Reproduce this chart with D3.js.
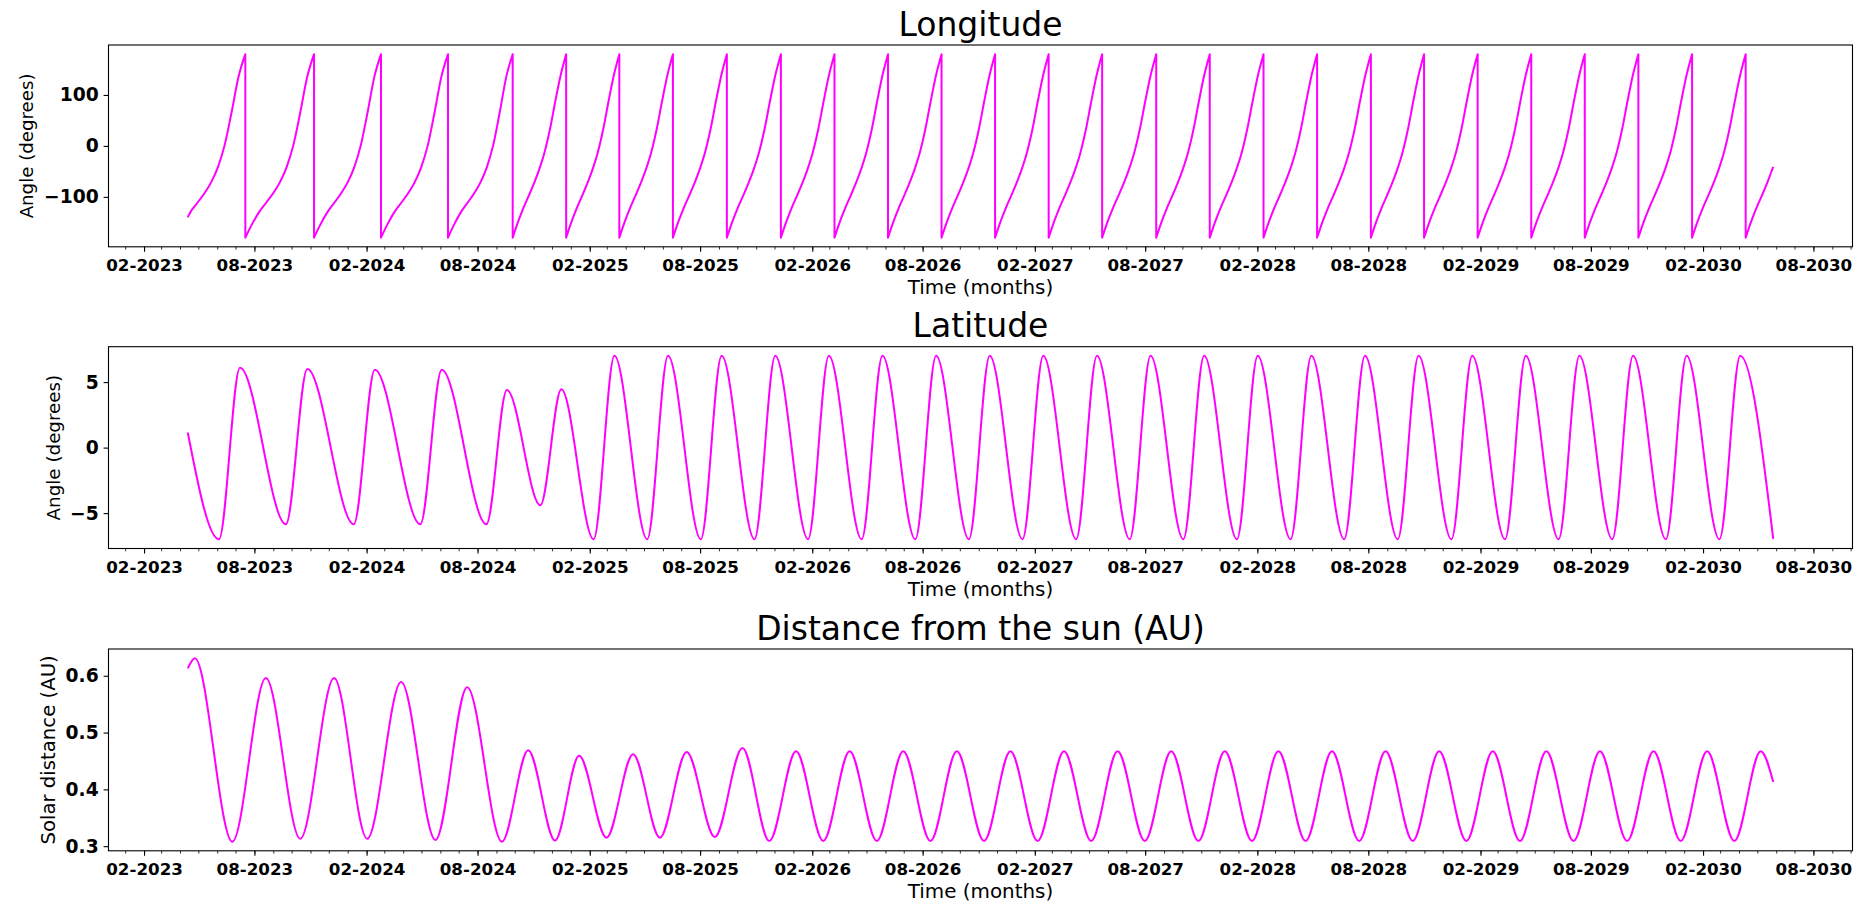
<!DOCTYPE html>
<html>
<head>
<meta charset="utf-8">
<script src="https://cdn.jsdelivr.net/npm/d3@7"></script>
<style>
  html, body { margin: 0; padding: 0; background: #fff; }
  svg { display: block; }
  text { font-family: "DejaVu Sans", sans-serif; fill: #000; }
</style>
</head>
<body>
<svg id="chart" width="1868" height="906"></svg>
<script>
// ===================== DATA =====================
// Time is given in days since the first sample.
const startDate = "2023-04-13T17:00:00Z";

// Axis tick values / labels
const xMajorMonths = [1, 7];            // February and August
const xTickFormat = "%m-%Y";
const lonTicks = [-100, 0, 100];
const latTicks = [-5, 0, 5];
const distTicks = [0.3, 0.4, 0.5, 0.6];

// Longitude (degrees): first and last samples, days where it wraps from +180 to -180,
// and the longitude read along one orbit (from one wrap to the next, 11 equally spaced readings)
const lonStart = [0, -140];
const lonEnd = [2600.4, -41];
const lonWrapDays = [94.4, 207.1, 316.9, 426.8, 532.9, 620.6, 707.8, 795.7, 884.2, 972.8,
  1060.7, 1148.5, 1236.3, 1324.1, 1412.0, 1499.7, 1588.4, 1676.2, 1764.4, 1852.3,
  1940.5, 2027.7, 2115.6, 2203.5, 2291.3, 2379.2, 2467.3, 2555.2];
const lonOrbitEarly = [-180, -153, -130, -112, -94, -72, -42, 2, 66, 135, 180];
const lonOrbitLate  = [-180, -149, -122, -98, -73, -45, -11, 34, 89, 140, 180];
const lonEarlyOrbitCount = 5;

// Latitude (degrees): start, turning points, end  [day, value]
const latPoints = [
  [0, 1.15], [51.2, -7.0], [85.6, 6.1], [161.0, -5.85], [196.1, 6.0], [272.3, -5.85],
  [306.8, 5.95], [381.4, -5.85], [416.5, 5.95], [489.8, -5.85], [523.4, 4.4], [578.3, -4.4],
  [612.7, 4.45], [665.7, -7.0], [699.8, 7.0], [753.6, -7.0], [787.7, 7.0], [841.5, -7.0],
  [875.6, 7.0], [929.5, -7.0], [963.6, 7.0], [1017.4, -7.0], [1051.5, 7.0], [1105.3, -7.0],
  [1139.4, 7.0], [1193.3, -7.0], [1227.4, 7.0], [1281.2, -7.0], [1315.3, 7.0], [1369.1, -7.0],
  [1403.2, 7.0], [1457.1, -7.0], [1491.2, 7.0], [1545.0, -7.0], [1579.1, 7.0], [1632.9, -7.0],
  [1667.0, 7.0], [1720.8, -7.0], [1754.9, 7.0], [1808.8, -7.0], [1842.9, 7.0], [1896.7, -7.0],
  [1930.8, 7.0], [1984.6, -7.0], [2018.7, 7.0], [2072.6, -7.0], [2106.7, 7.0], [2160.5, -7.0],
  [2194.6, 7.0], [2248.4, -7.0], [2282.5, 7.0], [2336.4, -7.0], [2370.5, 7.0], [2424.3, -7.0],
  [2458.4, 7.0], [2512.2, -7.0], [2546.3, 7.0], [2600.4, -6.97]
];

// Solar distance (AU): start, turning points, end  [day, value]
const distPoints = [
  [0, 0.613], [11.6, 0.631], [73.1, 0.308], [128.1, 0.596], [184.5, 0.313], [240.0, 0.596],
  [294.3, 0.313], [349.9, 0.589], [406.3, 0.311], [458.3, 0.580], [515.3, 0.308], [558.4, 0.469],
  [602.4, 0.310], [641.9, 0.459], [686.7, 0.315], [730.4, 0.462], [774.4, 0.315], [818.3, 0.466],
  [864.4, 0.316], [909.8, 0.473], [953.8, 0.309], [997.7, 0.467], [1042.3, 0.309], [1085.6, 0.467],
  [1130.2, 0.309], [1173.5, 0.467], [1218.1, 0.309], [1261.4, 0.467], [1306.0, 0.309], [1349.3, 0.467],
  [1393.9, 0.309], [1437.2, 0.467], [1481.8, 0.309], [1525.1, 0.467], [1569.7, 0.309], [1613.0, 0.467],
  [1657.6, 0.309], [1700.9, 0.467], [1745.5, 0.309], [1788.8, 0.467], [1833.4, 0.309], [1876.7, 0.467],
  [1921.3, 0.309], [1964.6, 0.467], [2009.2, 0.309], [2052.5, 0.467], [2097.1, 0.309], [2140.4, 0.467],
  [2185.0, 0.309], [2228.3, 0.467], [2272.9, 0.309], [2316.2, 0.467], [2360.8, 0.309], [2404.1, 0.467],
  [2448.7, 0.309], [2492.0, 0.467], [2536.6, 0.309], [2579.9, 0.467], [2600.4, 0.413]
];

// Panel texts
const titles = ["Longitude", "Latitude", "Distance from the sun (AU)"];
const yLabels = ["Angle (degrees)", "Angle (degrees)", "Solar distance (AU)"];
const xLabel = "Time (months)";

// ===================== BUILD =====================
const DAY = 86400000;
const t0 = new Date(startDate).getTime();
const toDate = d => new Date(t0 + d * DAY);

// longitude orbit segments (one per wrap interval)
function lonSegments() {
  const segs = [];
  const n = lonWrapDays.length;
  for (let k = 0; k <= n; k++) {
    const prof = k < lonEarlyOrbitCount ? lonOrbitEarly : lonOrbitLate;
    let s, e;
    if (k === 0) { e = lonWrapDays[0]; s = e - (lonWrapDays[1] - lonWrapDays[0]); }
    else if (k === n) { s = lonWrapDays[n - 1]; e = s + (lonWrapDays[n - 1] - lonWrapDays[n - 2]); }
    else { s = lonWrapDays[k - 1]; e = lonWrapDays[k]; }
    const pts = [];
    if (k === 0) pts.push(lonStart);
    prof.forEach((v, i) => {
      const d = s + (e - s) * i / (prof.length - 1);
      if (d > lonStart[0] + 0.5 && d < lonEnd[0] - 0.5) pts.push([d, v]);
    });
    if (k === n) pts.push(lonEnd);
    segs.push(pts);
  }
  return segs;
}

const W = 1868, H = 906;
const left = 108.5, right = 1852.5;
const tops = [45, 346.7, 649];
const plotH = 201.8;

const svg = d3.select("#chart");
svg.append("rect").attr("width", W).attr("height", H).attr("fill", "#fff");

const dayMin = 0, dayMax = lonEnd[0];
const pad = (dayMax - dayMin) * 0.05;
const x = d3.scaleUtc().domain([toDate(dayMin - pad), toDate(dayMax + pad)]).range([left, right]);

function padded(vals) {
  const [a, b] = d3.extent(vals);
  const m = (b - a) * 0.05;
  return [a - m, b + m];
}

const lonVals = [lonStart[1], lonEnd[1], ...lonOrbitEarly, ...lonOrbitLate];
const panels = [
  { domain: padded(lonVals), ticks: lonTicks, fmt: d3.format("d"), ylabX: 32.5, ylabSize: 18.2 },
  { domain: padded(latPoints.map(d => d[1])), ticks: latTicks, fmt: d3.format("d"), ylabX: 59.5, ylabSize: 18.3 },
  { domain: padded(distPoints.map(d => d[1])), ticks: distTicks, fmt: d3.format(".1f"), ylabX: 55, ylabSize: 19.7 }
];

const majorTicks = d3.utcMonths(x.domain()[0], x.domain()[1]).filter(m => xMajorMonths.includes(m.getUTCMonth()));
const minorTicks = d3.utcMonths(x.domain()[0], x.domain()[1]);

panels.forEach((p, i) => {
  const top = tops[i], bottom = top + plotH;
  const y = d3.scaleLinear().domain(p.domain).range([bottom, top]);
  const g = svg.append("g");

  // line(s)
  const lineGen = d3.line().x(d => x(toDate(d[0]))).y(d => y(d[1])).curve(d3.curveMonotoneX);
  let pathD;
  if (i === 0) {
    pathD = lonSegments().map((s, j) => { const ps = lineGen(s); return j === 0 ? ps : "L" + ps.slice(1); }).join("");
  } else {
    pathD = lineGen(i === 1 ? latPoints : distPoints);
  }
  g.append("path").attr("d", pathD).attr("fill", "none").attr("stroke", "#ff00ff")
    .attr("stroke-width", 2).attr("stroke-linejoin", "round");

  // x axis minor ticks
  const xMinor = d3.axisBottom(x).tickValues(minorTicks).tickSize(2.8).tickFormat("").tickSizeOuter(0);
  const gm = g.append("g").attr("transform", `translate(0,${bottom})`).call(xMinor);
  gm.select(".domain").remove();
  gm.selectAll(".tick line").attr("stroke", "#000").attr("stroke-width", 0.8);

  // x axis major ticks
  const xMajor = d3.axisBottom(x).tickValues(majorTicks).tickSize(4.9).tickPadding(7.5)
    .tickFormat(d3.utcFormat(xTickFormat)).tickSizeOuter(0);
  const gx = g.append("g").attr("transform", `translate(0,${bottom})`).call(xMajor);
  gx.select(".domain").remove();
  gx.selectAll(".tick line").attr("stroke", "#000").attr("stroke-width", 1.1);
  gx.selectAll(".tick text").attr("font-size", "16.7px").attr("font-weight", "bold")
    .attr("font-family", "DejaVu Sans").attr("fill", "#000");

  // y axis
  const yAxis = d3.axisLeft(y).tickValues(p.ticks).tickFormat(p.fmt).tickSize(4.9).tickPadding(4.9).tickSizeOuter(0);
  const gy = g.append("g").attr("transform", `translate(${left},0)`).call(yAxis);
  gy.select(".domain").remove();
  gy.selectAll(".tick line").attr("stroke", "#000").attr("stroke-width", 1.1);
  gy.selectAll(".tick text").attr("font-size", "18.7px").attr("font-weight", "bold")
    .attr("font-family", "DejaVu Sans").attr("fill", "#000");

  // frame
  g.append("rect").attr("x", left).attr("y", top).attr("width", right - left).attr("height", plotH)
    .attr("fill", "none").attr("stroke", "#000").attr("stroke-width", 1.1);

  // title
  g.append("text").attr("x", (left + right) / 2).attr("y", top - 9.5).attr("text-anchor", "middle")
    .attr("font-size", "33px").text(titles[i]);

  // x label
  g.append("text").attr("x", (left + right) / 2).attr("y", bottom + 47.5).attr("text-anchor", "middle")
    .attr("font-size", "19.9px").text(xLabel);

  // y label
  g.append("text").attr("transform", `translate(${p.ylabX},${(top + bottom) / 2}) rotate(-90)`)
    .attr("text-anchor", "middle").attr("font-size", p.ylabSize + "px").text(yLabels[i]);
});
</script>
</body>
</html>
